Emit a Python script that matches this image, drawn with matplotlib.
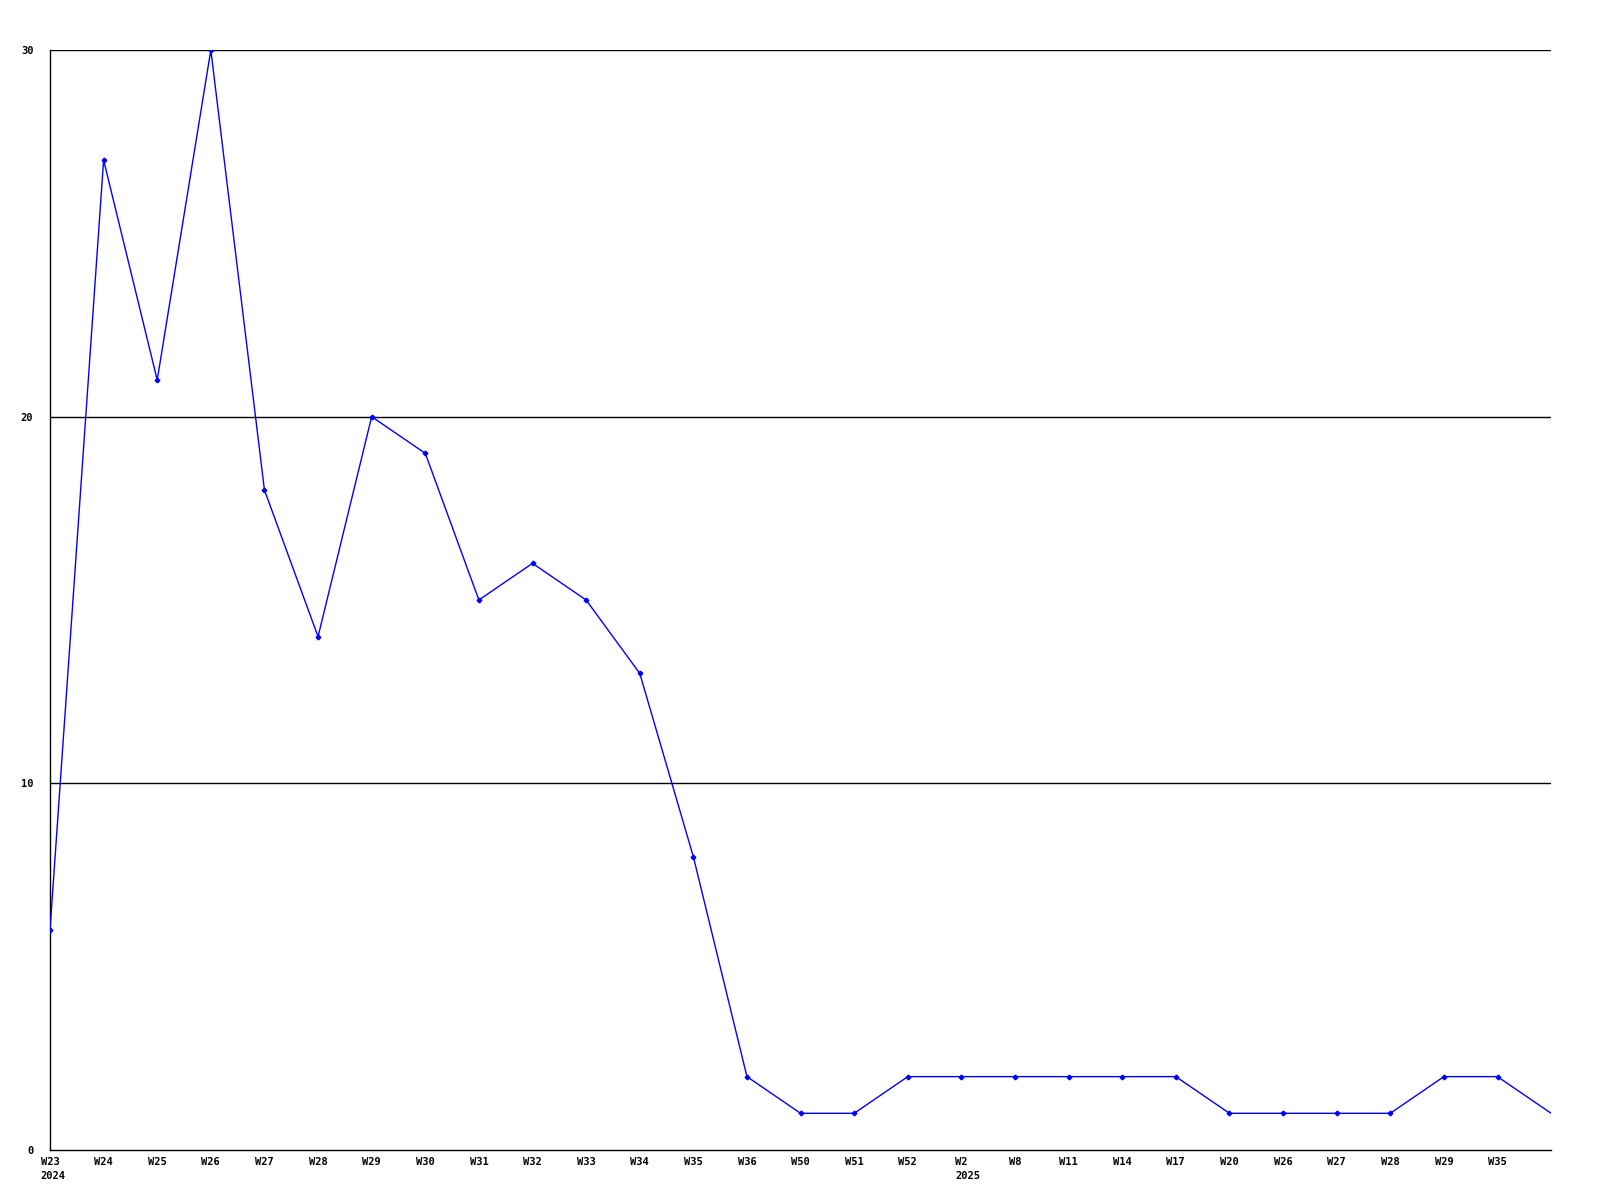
import matplotlib
matplotlib.use("Agg")
import matplotlib.pyplot as plt
import numpy as np

weeks = ["W23", "W24", "W25", "W26", "W27", "W28", "W29", "W30", "W31", "W32",
         "W33", "W34", "W35", "W36", "W50", "W51", "W52", "W2", "W8", "W11",
         "W14", "W17", "W20", "W26", "W27", "W28", "W29", "W35", ""]
counts = [6, 27, 21, 30, 18, 14, 20, 19, 15, 16,
          15, 13, 8, 2, 1, 1, 2, 2, 2, 2,
          2, 2, 1, 1, 1, 1, 2, 2, 1]
years = {0: "2024", 17: "2025"}
yticks = [0, 10, 20, 30]

fs = 7.5
font = dict(family="DejaVu Sans Mono", weight="bold", size=fs)

fig = plt.figure(figsize=(16, 12), dpi=100)
ax = fig.add_axes([0.03125, 0.0417, 0.9382, 0.9166])

x = np.arange(len(counts))
ax.plot(x, counts, color="#0000ff", lw=1.0, marker="P", ms=3,
        markevery=list(range(len(counts) - 1)), zorder=3)

for y in yticks[1:]:
    ax.axhline(y, color="black", lw=1.0, zorder=1)

ax.set_xlim(0, len(counts) - 1)
ax.set_ylim(0, 30)
ax.set_xticks(x)
ax.set_xticklabels(weeks, **font)
ax.set_yticks(yticks)
ax.set_yticklabels([str(v) for v in yticks], **font)
ax.tick_params(length=0)
ax.tick_params(axis="x", pad=5)
ax.tick_params(axis="y", pad=12)

for side in ["top", "right"]:
    ax.spines[side].set_visible(False)
for side in ["left", "bottom"]:
    ax.spines[side].set_linewidth(1.0)
    ax.spines[side].set_color("black")

# year labels, left edge lined up with the week label above
for i, yr in years.items():
    off = -len(weeks[i]) * 0.602 * fs / 2
    ax.annotate(yr, xy=(i, 0), xycoords=("data", "axes fraction"),
                xytext=(off, -15.5), textcoords="offset points",
                ha="left", va="top", annotation_clip=False, **font)

fig.savefig("out.png", dpi=100)
